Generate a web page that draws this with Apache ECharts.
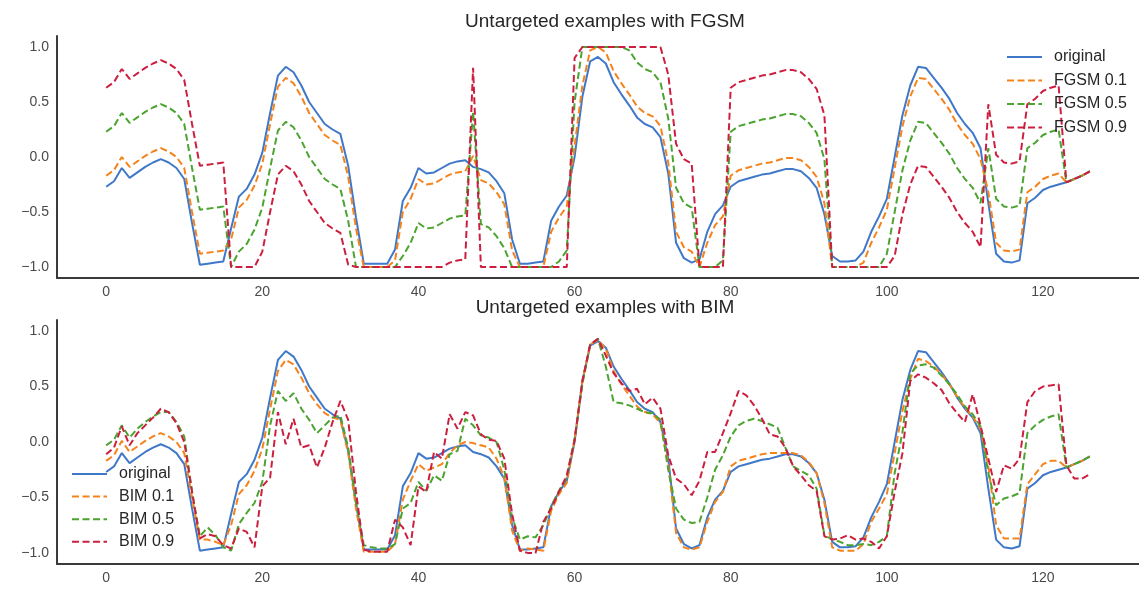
<!DOCTYPE html>
<html>
<head>
<meta charset="utf-8">
<script src="https://cdn.jsdelivr.net/npm/echarts@6/dist/echarts.min.js"></script>
<style>
  html, body { margin: 0; padding: 0; background: #fff; }
  #chart { width: 1139px; height: 589px; }
</style>
</head>
<body>
<div id="chart"></div>
<script>
// values, index 0..126
const original = [
  -0.27,-0.22,-0.10,-0.19,-0.14,-0.09,-0.05,-0.02,-0.05,-0.10,
  -0.20,-0.60,-0.98,-0.97,-0.96,-0.95,-0.65,-0.36,-0.29,-0.16,
  0.04,0.40,0.74,0.82,0.77,0.65,0.50,0.40,0.30,0.25,
  0.21,-0.08,-0.55,-0.97,-0.97,-0.97,-0.97,-0.84,-0.40,-0.28,
  -0.10,-0.15,-0.14,-0.10,-0.06,-0.04,-0.03,-0.09,-0.11,-0.14,
  -0.22,-0.33,-0.75,-0.97,-0.97,-0.96,-0.95,-0.58,-0.45,-0.35,
  0.00,0.55,0.87,0.91,0.85,0.68,0.57,0.47,0.36,0.30,
  0.27,0.18,-0.15,-0.78,-0.92,-0.96,-0.93,-0.68,-0.52,-0.44,
  -0.27,-0.22,-0.20,-0.18,-0.16,-0.15,-0.13,-0.11,-0.11,-0.13,
  -0.19,-0.28,-0.52,-0.90,-0.95,-0.95,-0.94,-0.86,-0.68,-0.54,
  -0.38,0.00,0.38,0.65,0.82,0.81,0.72,0.63,0.53,0.40,
  0.30,0.22,0.08,-0.42,-0.88,-0.95,-0.96,-0.94,-0.42,-0.37,
  -0.30,-0.27,-0.25,-0.23,-0.20,-0.17,-0.13
];

const fgsm01 = [
  -0.17,-0.12,0.00,-0.09,-0.04,0.01,0.05,0.08,0.05,0.00,
  -0.10,-0.50,-0.88,-0.87,-0.86,-0.85,-0.75,-0.46,-0.39,-0.26,
  -0.06,0.30,0.64,0.72,0.67,0.55,0.40,0.30,0.20,0.15,
  0.11,-0.18,-0.65,-1.00,-1.00,-1.00,-1.00,-0.94,-0.50,-0.38,
  -0.20,-0.25,-0.24,-0.20,-0.16,-0.14,-0.13,0.01,-0.21,-0.24,
  -0.32,-0.43,-0.85,-1.00,-1.00,-1.00,-1.00,-0.68,-0.55,-0.45,
  0.10,0.65,0.97,1.00,0.95,0.78,0.67,0.57,0.46,0.40,
  0.37,0.28,-0.05,-0.68,-0.82,-0.86,-1.00,-0.78,-0.62,-0.54,
  -0.17,-0.12,-0.10,-0.08,-0.06,-0.05,-0.03,-0.01,-0.01,-0.03,
  -0.09,-0.18,-0.42,-1.00,-1.00,-1.00,-1.00,-0.96,-0.78,-0.64,
  -0.48,-0.10,0.28,0.55,0.72,0.71,0.62,0.53,0.43,0.30,
  0.20,0.12,-0.02,-0.32,-0.78,-0.85,-0.86,-0.84,-0.32,-0.27,
  -0.20,-0.17,-0.15,-0.23,-0.20,-0.17,-0.13
];

const fgsm05 = [
  0.23,0.28,0.40,0.31,0.36,0.41,0.45,0.48,0.45,0.40,
  0.30,-0.10,-0.48,-0.47,-0.46,-0.45,-1.00,-0.86,-0.79,-0.66,
  -0.46,-0.10,0.24,0.32,0.27,0.15,0.00,-0.10,-0.20,-0.25,
  -0.29,-0.58,-1.00,-1.00,-1.00,-1.00,-1.00,-1.00,-0.90,-0.78,
  -0.60,-0.65,-0.64,-0.60,-0.56,-0.54,-0.53,0.41,-0.61,-0.64,
  -0.72,-0.83,-1.00,-1.00,-1.00,-1.00,-1.00,-1.00,-0.95,-0.85,
  0.50,1.00,1.00,1.00,1.00,1.00,1.00,0.97,0.86,0.80,
  0.77,0.68,0.35,-0.28,-0.42,-0.46,-1.00,-1.00,-1.00,-0.94,
  0.23,0.28,0.30,0.32,0.34,0.35,0.37,0.39,0.39,0.37,
  0.31,0.22,-0.02,-1.00,-1.00,-1.00,-1.00,-1.00,-1.00,-1.00,
  -0.88,-0.50,-0.12,0.15,0.32,0.31,0.22,0.13,0.03,-0.10,
  -0.20,-0.28,-0.42,0.08,-0.38,-0.45,-0.46,-0.44,0.08,0.13,
  0.20,0.23,0.25,-0.23,-0.20,-0.17,-0.13
];

const fgsm09 = [
  0.63,0.68,0.80,0.71,0.76,0.81,0.85,0.88,0.85,0.80,
  0.70,0.30,-0.08,-0.07,-0.06,-0.05,-1.00,-1.00,-1.00,-1.00,
  -0.86,-0.50,-0.16,-0.08,-0.13,-0.25,-0.40,-0.50,-0.60,-0.65,
  -0.69,-0.98,-1.00,-1.00,-1.00,-1.00,-1.00,-1.00,-1.00,-1.00,
  -1.00,-1.00,-1.00,-1.00,-0.96,-0.94,-0.93,0.81,-1.00,-1.00,
  -1.00,-1.00,-1.00,-1.00,-1.00,-1.00,-1.00,-1.00,-1.00,-1.00,
  0.90,1.00,1.00,1.00,1.00,1.00,1.00,1.00,1.00,1.00,
  1.00,1.00,0.75,0.12,-0.02,-0.06,-1.00,-1.00,-1.00,-1.00,
  0.63,0.68,0.70,0.72,0.74,0.75,0.77,0.79,0.79,0.77,
  0.71,0.62,0.38,-1.00,-1.00,-1.00,-1.00,-1.00,-1.00,-1.00,
  -1.00,-0.90,-0.52,-0.25,-0.08,-0.09,-0.18,-0.27,-0.37,-0.50,
  -0.60,-0.68,-0.82,0.48,0.02,-0.05,-0.06,-0.04,0.48,0.53,
  0.60,0.63,0.65,-0.23,-0.20,-0.17,-0.13
];

const bim01 = [
  -0.17,-0.12,0.01,-0.09,-0.04,0.01,0.05,0.08,0.05,0.00,
  -0.10,-0.50,-0.88,-0.88,-0.90,-0.93,-0.75,-0.47,-0.39,-0.26,
  -0.06,0.30,0.64,0.74,0.70,0.58,0.44,0.34,0.26,0.22,
  0.20,-0.10,-0.60,-0.99,-0.99,-0.99,-0.99,-0.92,-0.52,-0.35,
  -0.20,-0.26,-0.23,-0.20,-0.10,-0.03,0.00,-0.01,-0.03,-0.05,
  -0.15,-0.32,-0.80,-0.98,-0.96,-0.97,-0.98,-0.62,-0.47,-0.37,
  0.02,0.55,0.88,0.92,0.84,0.64,0.52,0.42,0.32,0.27,
  0.25,0.17,-0.20,-0.82,-0.95,-0.97,-0.95,-0.72,-0.54,-0.45,
  -0.22,-0.17,-0.15,-0.13,-0.11,-0.10,-0.10,-0.10,-0.10,-0.12,
  -0.18,-0.28,-0.55,-0.95,-0.98,-0.98,-0.98,-0.92,-0.72,-0.60,
  -0.47,-0.10,0.28,0.57,0.75,0.73,0.68,0.61,0.52,0.41,
  0.31,0.23,0.12,-0.22,-0.75,-0.87,-0.87,-0.87,-0.38,-0.29,
  -0.20,-0.17,-0.17,-0.23,-0.20,-0.17,-0.13
];

const bim05 = [
  -0.03,0.02,0.15,0.04,0.12,0.18,0.23,0.27,0.27,0.18,
  0.05,-0.45,-0.85,-0.77,-0.84,-0.95,-0.98,-0.74,-0.64,-0.55,
  -0.36,0.15,0.46,0.37,0.44,0.30,0.20,0.08,0.15,0.22,
  0.24,-0.05,-0.55,-0.93,-0.95,-0.96,-0.96,-0.92,-0.60,-0.55,
  -0.36,-0.44,-0.30,-0.35,-0.11,-0.08,0.21,0.15,0.06,0.04,
  0.00,-0.25,-0.68,-0.88,-0.85,-0.86,-0.75,-0.58,-0.44,-0.32,
  0.02,0.52,0.88,0.93,0.68,0.36,0.35,0.33,0.30,0.27,
  0.26,0.20,-0.25,-0.60,-0.70,-0.73,-0.72,-0.50,-0.25,-0.12,
  0.05,0.15,0.19,0.21,0.19,0.16,0.13,-0.05,-0.22,-0.26,
  -0.30,-0.42,-0.84,-0.88,-0.90,-0.93,-0.93,-0.92,-0.93,-0.90,
  -0.85,-0.28,0.09,0.62,0.69,0.70,0.67,0.60,0.52,0.43,
  0.32,0.25,0.14,-0.28,-0.57,-0.51,-0.49,-0.46,0.08,0.15,
  0.20,0.23,0.25,-0.23,-0.20,-0.17,-0.13
];

const bim09 = [
  -0.11,-0.05,0.14,-0.03,0.08,0.15,0.22,0.30,0.27,0.17,
  0.00,-0.45,-0.87,-0.83,-0.85,-0.93,-0.96,-0.78,-0.81,-0.95,
  -0.40,-0.32,0.27,-0.02,0.21,-0.05,-0.03,-0.23,-0.05,0.18,
  0.37,0.20,-0.45,-0.97,-0.99,-0.99,-0.99,-0.70,-0.77,-0.93,
  -0.40,-0.45,-0.09,-0.15,0.25,0.12,0.27,0.24,0.07,0.02,
  0.01,-0.15,-0.65,-0.98,-1.00,-1.00,-0.72,-0.60,-0.45,-0.30,
  0.02,0.55,0.88,0.93,0.78,0.62,0.53,0.46,0.48,0.34,
  0.40,0.30,-0.12,-0.33,-0.38,-0.48,-0.35,-0.09,-0.09,0.08,
  0.26,0.46,0.42,0.33,0.21,0.07,0.05,-0.05,-0.22,-0.30,
  -0.39,-0.44,-0.85,-0.88,-0.87,-0.84,-0.88,-0.87,-0.90,-0.96,
  -0.85,-0.45,-0.10,0.55,0.61,0.58,0.53,0.47,0.35,0.26,
  0.18,0.43,0.15,-0.15,-0.45,-0.21,-0.24,-0.15,0.36,0.46,
  0.50,0.51,0.52,-0.21,-0.33,-0.33,-0.29
];

const xTicks = [0, 20, 40, 60, 80, 100, 120];
const yTicks = [-1, -0.5, 0, 0.5, 1];

const fontFamily = "'Liberation Sans', Arial, sans-serif";
const colors = ['#3f78c8', '#f5831c', '#4ba330', '#cc1f3f'];

const toPairs = (arr) => arr.map((v, i) => [i, v]);
const yFmt = (v) => v.toFixed(1).replace('-', '\u2212');

function makeX(gridIndex) {
  return {
    type: 'value', gridIndex,
    min: -6.3, max: 132.3,
    splitLine: { show: false },
    axisTick: { show: false },
    axisLine: { show: true, onZero: false, lineStyle: { color: '#3a3a3a', width: 2 } },
    axisLabel: {
      customValues: xTicks, margin: 7,
      color: '#4a4a4a', fontSize: 14, fontFamily
    }
  };
}

function makeY(gridIndex) {
  return {
    type: 'value', gridIndex,
    min: -1.1, max: 1.1,
    splitLine: { show: false },
    axisTick: { show: false },
    axisLine: { show: true, onZero: false, lineStyle: { color: '#3a3a3a', width: 2 } },
    axisLabel: {
      customValues: yTicks, margin: 8, formatter: yFmt,
      color: '#4a4a4a', fontSize: 14, fontFamily
    }
  };
}

function makeLine(name, arr, k, gridIndex) {
  return {
    name, type: 'line',
    xAxisIndex: gridIndex, yAxisIndex: gridIndex,
    data: toPairs(arr),
    symbol: 'none',
    lineStyle: {
      color: colors[k], width: 2,
      type: k === 0 ? 'solid' : [7, 3.5]
    },
    itemStyle: { color: colors[k] }
  };
}

const legendText = { fontSize: 16, color: '#262626', fontFamily, lineHeight: 16, padding: [0, 0, 0, 7] };

const chart = echarts.init(document.getElementById('chart'));
chart.setOption({
  animation: false,
  backgroundColor: '#fff',
  title: [
    { text: 'Untargeted examples with FGSM', left: 600, top: 7, textAlign: 'center',
      textStyle: { fontSize: 19, fontWeight: 'normal', color: '#262626', fontFamily } },
    { text: 'Untargeted examples with BIM', left: 600, top: 293, textAlign: 'center',
      textStyle: { fontSize: 19, fontWeight: 'normal', color: '#262626', fontFamily } }
  ],
  grid: [
    { left: 57, top: 36, width: 1085, height: 242 },
    { left: 57, top: 320, width: 1085, height: 244 }
  ],
  legend: [
    { data: ['original', 'FGSM 0.1', 'FGSM 0.5', 'FGSM 0.9'],
      orient: 'vertical', left: 1006, top: 49, padding: 0,
      itemWidth: 35, itemHeight: 14, itemGap: 7.5,
      itemStyle: { opacity: 0 },
      textStyle: legendText },
    { data: ['original', 'BIM 0.1', 'BIM 0.5', 'BIM 0.9'],
      orient: 'vertical', left: 71, top: 466, padding: 0,
      itemWidth: 35, itemHeight: 14, itemGap: 6.6,
      itemStyle: { opacity: 0 },
      textStyle: legendText }
  ],
  xAxis: [makeX(0), makeX(1)],
  yAxis: [makeY(0), makeY(1)],
  series: [
    makeLine('original', original, 0, 0),
    makeLine('FGSM 0.1', fgsm01, 1, 0),
    makeLine('FGSM 0.5', fgsm05, 2, 0),
    makeLine('FGSM 0.9', fgsm09, 3, 0),
    makeLine('original', original, 0, 1),
    makeLine('BIM 0.1', bim01, 1, 1),
    makeLine('BIM 0.5', bim05, 2, 1),
    makeLine('BIM 0.9', bim09, 3, 1)
  ]
});

window.addEventListener('resize', () => { chart.resize(); });
</script>
</body>
</html>
